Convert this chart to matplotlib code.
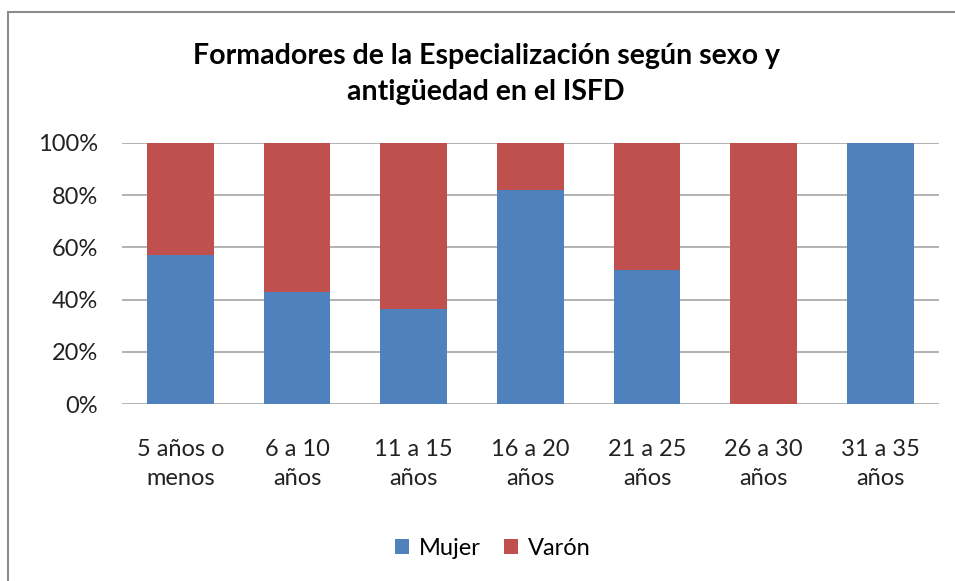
import numpy as np
import matplotlib
matplotlib.use("Agg")
import matplotlib.pyplot as plt
from matplotlib.lines import Line2D

categories = ["5 años o\nmenos", "6 a 10\naños", "11 a 15\naños", "16 a 20\naños",
              "21 a 25\naños", "26 a 30\naños", "31 a 35\naños"]
mujer = [57.1, 42.9, 36.4, 81.8, 51.3, 0.0, 100.0]
varon = [42.9, 57.1, 63.6, 18.2, 48.7, 100.0, 0.0]

plt.rcParams["font.family"] = ["Lato", "DejaVu Sans"]

fig = plt.figure(figsize=(9.55, 5.81), dpi=100)
ax = fig.add_axes([0.1277, 0.3046, 0.8553, 0.4493])

x = np.arange(len(categories))
w = 0.57
ax.bar(x, mujer, w, color="#4F81BD", label="Mujer", zorder=3)
ax.bar(x, varon, w, bottom=mujer, color="#C0504D", label="Varón", zorder=3)

ax.set_xlim(-0.5, len(categories) - 0.5)
ax.set_ylim(0, 100)
ax.set_yticks(np.arange(0, 101, 20))
ax.set_yticklabels([f"{v}%" for v in range(0, 101, 20)])
ax.yaxis.grid(True, color="#a6a6a6", linewidth=1.2, zorder=0)
ax.set_xticks(x)
ax.set_xticklabels(categories, linespacing=1.5)
ax.tick_params(axis="both", length=0, labelsize=17, colors="#222222")
ax.tick_params(axis="y", pad=17)
ax.tick_params(axis="x", pad=25)
for s in ax.spines.values():
    s.set_visible(False)

fig.text(0.509, 0.873, "Formadores de la Especialización según sexo y\nantigüedad en el ISFD",
         ha="center", va="center", fontsize=20.5, fontweight="bold", linespacing=1.45)

ax.legend(loc="center", bbox_to_anchor=(0.516, 0.0567), bbox_transform=fig.transFigure,
          ncol=2, frameon=False, fontsize=17, handlelength=0.6, handleheight=0.6,
          handletextpad=0.4, columnspacing=1.0)

# outer chart border
fig.add_artist(Line2D([8 / 955, 8 / 955], [0, 1 - 12 / 581], transform=fig.transFigure,
                      color="#8c8c8c", linewidth=1.5))
fig.add_artist(Line2D([8 / 955, 1], [1 - 12 / 581, 1 - 12 / 581], transform=fig.transFigure,
                      color="#8c8c8c", linewidth=1.5))

fig.savefig("out.png", dpi=100)
